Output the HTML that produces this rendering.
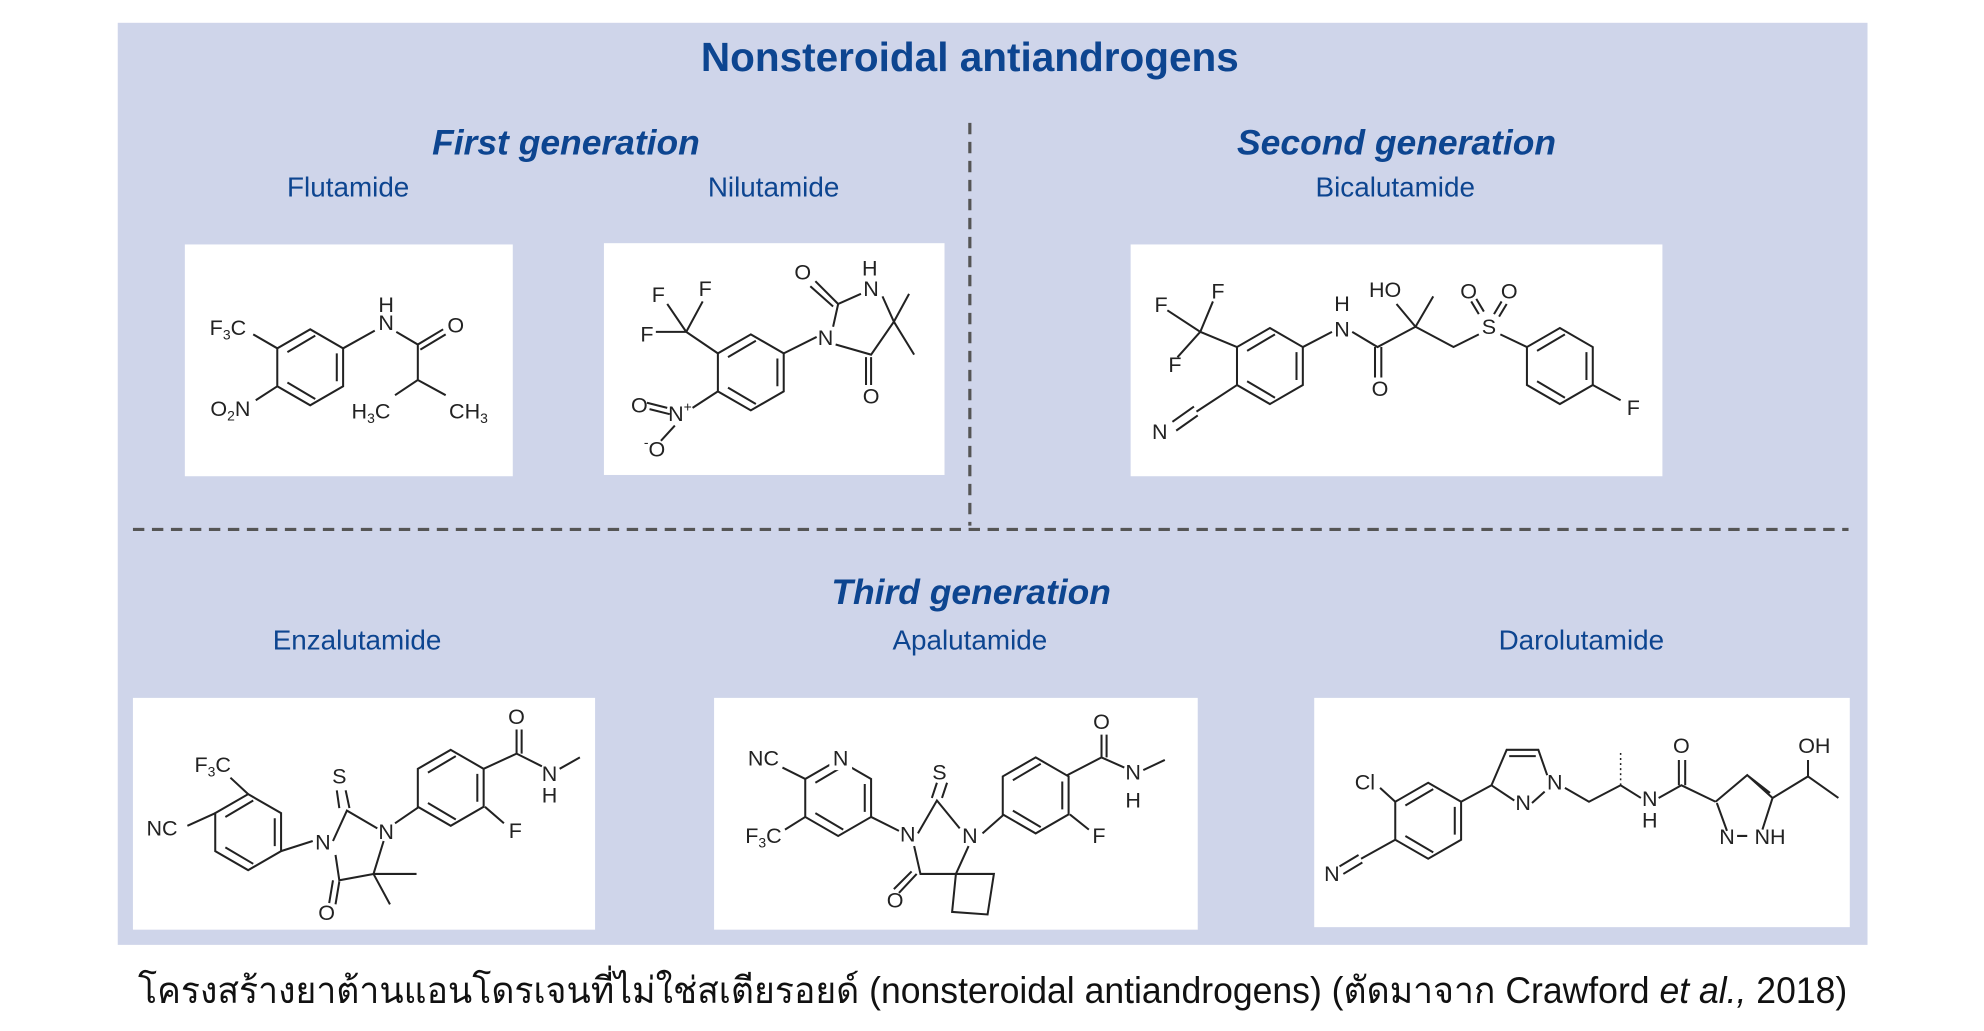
<!DOCTYPE html>
<html><head><meta charset="utf-8"><style>
html,body{margin:0;padding:0;background:#fff;width:1984px;height:1031px;overflow:hidden}
svg{display:block}
.b{stroke:#222;stroke-width:1.6;fill:none}
.m{font-family:"Liberation Sans",sans-serif;font-size:17px;fill:#222;text-anchor:middle;dominant-baseline:central}
.s{font-size:11px}
.h{font-family:"Liberation Sans",sans-serif;fill:#0d4590;text-anchor:middle}
</style></head><body>
<svg width="1984" height="1031" viewBox="0 0 1567 814" preserveAspectRatio="none">
<defs>
<polygon id="hx" points="0,-30 26,-15 26,15 0,30 -26,15 -26,-15" class="b"/>
<g id="hxd"><use href="#hx"/><path class="b" d="M21,-11 L21,11 M4,25 L-18,12 M-18,-12 L4,-25"/></g>
</defs>
<rect x="93" y="18" width="1382" height="728" fill="#cfd5ea"/>
<text class="h" x="766" y="56" font-size="32" font-weight="bold">Nonsteroidal antiandrogens</text>
<line x1="766" y1="97" x2="766" y2="415" stroke="#555" stroke-width="2.5" stroke-dasharray="9,6"/>
<line x1="105" y1="418" x2="1460" y2="418" stroke="#555" stroke-width="2.5" stroke-dasharray="9,6"/>
<text class="h" x="447" y="122" font-size="28" font-weight="bold" font-style="italic">First generation</text>
<text class="h" x="1103" y="122" font-size="28" font-weight="bold" font-style="italic">Second generation</text>
<text class="h" x="767" y="477" font-size="28" font-weight="bold" font-style="italic">Third generation</text>
<text class="h" x="275" y="155" font-size="22">Flutamide</text>
<text class="h" x="611" y="155" font-size="22">Nilutamide</text>
<text class="h" x="1102" y="155" font-size="22">Bicalutamide</text>
<text class="h" x="282" y="513" font-size="22">Enzalutamide</text>
<text class="h" x="766" y="513" font-size="22">Apalutamide</text>
<text class="h" x="1249" y="513" font-size="22">Darolutamide</text>
<rect x="146" y="193" width="259" height="183" fill="#fff"/>
<rect x="477" y="192" width="269" height="183" fill="#fff"/>
<rect x="893" y="193" width="420" height="183" fill="#fff"/>
<rect x="105" y="551" width="365" height="183" fill="#fff"/>
<rect x="564" y="551" width="382" height="183" fill="#fff"/>
<rect x="1038" y="551" width="423" height="181" fill="#fff"/>

<!-- Flutamide -->
<use href="#hxd" x="245" y="290"/>
<path class="b" d="M219,275 L200,264 M219,305 L202,316 M271,275 L296,261 M313,262 L330,272 L350,260 M332,276 L352,264 M330,272 L330,300 L312,312 M330,300 L352,312"/>
<text class="m" x="305" y="255">N</text><text class="m" x="305" y="241">H</text>
<text class="m" x="360" y="257">O</text>
<text class="m" x="180" y="259">F<tspan class="s" dy="5">3</tspan><tspan dy="-5">C</tspan></text>
<text class="m" x="182" y="323">O<tspan class="s" dy="5">2</tspan><tspan dy="-5">N</tspan></text>
<text class="m" x="293" y="325">H<tspan class="s" dy="5">3</tspan><tspan dy="-5">C</tspan></text>
<text class="m" x="370" y="325">CH<tspan class="s" dy="5">3</tspan></text>

<!-- Nilutamide -->
<use href="#hxd" x="593" y="294"/>
<path class="b" d="M567,279 L542,262 L527,240 M542,262 L555,238 M542,262 L518,262 M619,279 L645,266 M658,258 L662,240 L680,232 M662,240 L644,222 M658,242 L640,226 M697,234 L706,254 L688,280 L660,272 M706,254 L718,232 M706,254 L722,280 M688,282 L688,304 M684,282 L684,304 M567,309 L547,322 M527,322 L511,318 M529,327 L513,323 M533,336 L522,348"/>
<text class="m" x="520" y="233">F</text><text class="m" x="557" y="228">F</text><text class="m" x="511" y="264">F</text>
<text class="m" x="652" y="267">N</text><text class="m" x="634" y="215">O</text>
<text class="m" x="688" y="228">N</text><text class="m" x="687" y="212">H</text>
<text class="m" x="688" y="313">O</text>
<text class="m" x="537" y="327">N<tspan class="s" dy="-6">+</tspan></text>
<text class="m" x="505" y="320">O</text><text class="m" x="517" y="355"><tspan class="s" dy="-6">-</tspan><tspan dy="6">O</tspan></text>

<!-- Bicalutamide -->
<use href="#hxd" x="1003" y="289"/>
<path class="b" d="M977,274 L948,262 L922,245 M948,262 L958,238 M948,262 L930,282 M977,304 L945,325 M943,321 L926,333 M946,328 L929,340 M1029,274 L1052,262 M1068,262 L1088,274 L1118,258 L1148,274 L1168,264 M1086,274 L1086,298 M1091,274 L1091,298 M1118,258 L1103,240 M1118,258 L1132,234 M1185,264 L1206,274 M1168,248 L1162,238 M1172,246 L1166,236 M1180,248 L1186,238 M1184,250 L1190,240 M1258,304 L1280,316"/>
<use href="#hxd" x="1232" y="289"/>
<text class="m" x="917" y="241">F</text><text class="m" x="962" y="230">F</text><text class="m" x="928" y="288">F</text>
<text class="m" x="916" y="341">N</text>
<text class="m" x="1060" y="260">N</text><text class="m" x="1060" y="240">H</text>
<text class="m" x="1090" y="307">O</text><text class="m" x="1094" y="229">HO</text>
<text class="m" x="1176" y="258">S</text><text class="m" x="1160" y="230">O</text><text class="m" x="1192" y="230">O</text>
<text class="m" x="1290" y="322">F</text>

<!-- Enzalutamide -->
<use href="#hxd" x="196" y="657"/>
<path class="b" d="M182,614 L196,627 M170,642 L148,652 M222,672 L247,664 M263,664 L274,640 L298,654 M268,638 L266,624 M276,638 L273,624 M312,650 L331,637 M265,675 L268,695 L295,690 L303,664 M263,695 L260,713 M268,696 L265,714 M295,690 L329,690 M295,690 L308,714 M382,607 L408,595 L408,576 M412,595 L412,576 M408,595 L428,605 M442,607 L458,598 M383,637 L398,650"/>
<use href="#hxd" x="356" y="622"/>
<text class="m" x="168" y="604">F<tspan class="s" dy="5">3</tspan><tspan dy="-5">C</tspan></text>
<text class="m" x="128" y="654">NC</text>
<text class="m" x="255" y="665">N</text><text class="m" x="305" y="657">N</text>
<text class="m" x="268" y="613">S</text><text class="m" x="258" y="721">O</text>
<text class="m" x="408" y="566">O</text><text class="m" x="434" y="611">N</text><text class="m" x="434" y="628">H</text>
<text class="m" x="407" y="656">F</text>

<!-- Apalutamide -->
<use href="#hxd" x="662" y="630"/>
<path class="b" d="M618,606 L636,615 M620,655 L636,645 M688,645 L710,656 M725,658 L740,632 L758,654 M736,630 L740,618 M744,630 L748,618 M722,668 L727,690 L755,690 L765,668 M724,690 L710,705 M720,688 L706,702 M755,690 L785,690 L780,722 L752,720 Z M776,658 L793,643 M843,612 L870,598 L870,580 M874,598 L874,580 M870,598 L888,606 M903,608 L920,600 M845,643 L860,655"/>
<use href="#hxd" x="818" y="628"/>
<rect x="655" y="590" width="18" height="18" fill="#fff"/>
<text class="m" x="603" y="599">NC</text><text class="m" x="664" y="599">N</text>
<text class="m" x="603" y="660">F<tspan class="s" dy="5">3</tspan><tspan dy="-5">C</tspan></text>
<text class="m" x="717" y="659">N</text><text class="m" x="766" y="660">N</text>
<text class="m" x="742" y="610">S</text><text class="m" x="707" y="711">O</text>
<text class="m" x="870" y="570">O</text><text class="m" x="895" y="610">N</text><text class="m" x="895" y="632">H</text>
<text class="m" x="868" y="660">F</text>

<!-- Darolutamide -->
<use href="#hxd" x="1128" y="648"/>
<path class="b" d="M1102,633 L1090,622 M1102,663 L1075,678 M1073,675 L1058,684 M1076,681 L1061,690 M1154,633 L1178,620 M1178,620 L1190,592 L1215,592 L1222,612 M1192,597 L1213,597 M1178,620 L1196,632 M1210,634 L1220,625 M1236,622 L1255,633 L1280,620 L1296,630 M1310,630 L1328,620 L1355,633 M1326,620 L1326,600 M1331,620 L1331,600 M1355,633 L1380,612 L1400,630 L1392,655 M1356,634 L1364,656 M1380,612 L1398,626 M1400,630 L1428,613 L1428,600 M1428,613 L1452,630 M1372,660 L1380,660"/>
<path d="M1280,620 L1280,592" stroke="#222" stroke-width="1.2" stroke-dasharray="1.5,2.5"/>
<text class="m" x="1078" y="618">Cl</text><text class="m" x="1052" y="690">N</text>
<text class="m" x="1203" y="634">N</text><text class="m" x="1228" y="618">N</text>
<text class="m" x="1303" y="631">N</text><text class="m" x="1303" y="648">H</text>
<text class="m" x="1328" y="589">O</text>
<text class="m" x="1364" y="661">N</text><text class="m" x="1398" y="661">NH</text>
<text class="m" x="1433" y="589">OH</text>

<text x="784" y="792" text-anchor="middle" textLength="1350" lengthAdjust="spacingAndGlyphs" font-family="'Liberation Sans','Noto Sans CJK SC',sans-serif" font-size="29" fill="#111">โครงสร้างยาต้านแอนโดรเจนที่ไม่ใช่สเตียรอยด์ (nonsteroidal antiandrogens) (ตัดมาจาก Crawford <tspan font-style="italic">et al.,</tspan> 2018)</text>
</svg>
</body></html>
